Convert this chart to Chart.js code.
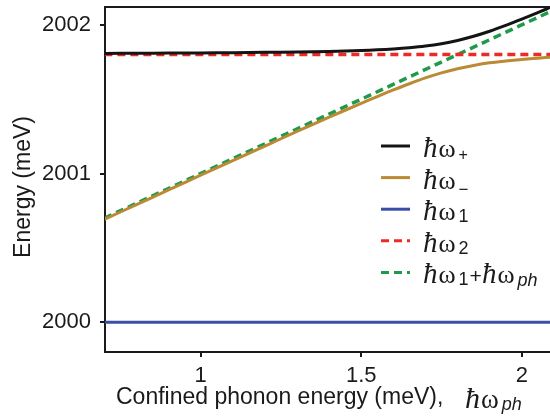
<!DOCTYPE html>
<html>
<head>
<meta charset="utf-8">
<script src="https://cdn.jsdelivr.net/npm/chart.js@4.4.1/dist/chart.umd.min.js"></script>
<style>
html,body{margin:0;padding:0;background:#ffffff;}
#wrap{position:relative;width:550px;height:416px;overflow:hidden;}
</style>
</head>
<body>
<div id="wrap"><canvas id="c" width="550" height="416"></canvas></div>
<script>
// ---- data ----
const xPhonon = [0.70,0.80,0.90,1.00,1.10,1.20,1.30,1.40,1.50,1.55,1.60,1.65,1.70,1.75,1.80,1.85,1.90,1.95,2.00,2.05,2.10];
const upperBranch = [2001.808,2001.809,2001.810,2001.811,2001.813,2001.815,2001.817,2001.821,2001.828,2001.832,2001.838,2001.846,2001.857,2001.873,2001.895,2001.923,2001.957,2001.996,2002.038,2002.082,2002.128];
const lowerBranch = [2000.692,2000.791,2000.890,2000.989,2001.087,2001.185,2001.283,2001.379,2001.472,2001.518,2001.562,2001.604,2001.643,2001.677,2001.705,2001.727,2001.745,2001.757,2001.767,2001.776,2001.783];
const lineX = [0.70, 2.10];
const omega1 = [2000.0, 2000.0];
const omega2 = [2001.8, 2001.8];
const omega1PlusPh = [2000.70, 2002.10];
const xTicks = [1, 1.5, 2];
const xTickLabels = ['1', '1.5', '2'];
const yTicks = [2000, 2001, 2002];
const yTickLabels = ['2000', '2001', '2002'];
const seriesNames = ['ħω+', 'ħω−', 'ħω1', 'ħω2', 'ħω1+ħωph'];

const pts = (xs, ys) => xs.map((x, i) => ({x: x, y: ys[i]}));

const SANS = '"Liberation Sans", Arial, sans-serif';
const SERIF = '"Liberation Serif", "Times New Roman", serif';
const TXT = '#1a1a1a';

// text runs for legend entries (formatting of seriesNames)
const hbar = (sz) => [{t:'ħ', f:'italic ' + (sz + 3) + 'px ' + SERIF}, {t:'ω', f:sz + 'px ' + SERIF, dx:1}];
const sub = (t, dy, sz, it) => ({t:t, f:(it ? 'italic ' : '') + sz + 'px ' + SANS, dy:dy, dx:3});
const legendRuns = [
  [...hbar(26), sub('+', 3, 16)],
  [...hbar(26), sub('−', 6, 17)],
  [...hbar(26), sub('1', 2, 18)],
  [...hbar(26), sub('2', 2, 18)],
  [...hbar(26), sub('1', 2, 18), {t:'+', f:'21px ' + SANS, dx:1}, ...hbar(26), sub('ph', 3, 18, true)]
];
const legendColors = ['#141414', '#bb8a34', '#3a4ea8', '#ee2a24', '#1f9a4b'];
const legendDash = [[], [], [], [8,5], [8,5]];

function drawRuns(ctx, x, baseline, runs) {
  let cx = x;
  ctx.textBaseline = 'alphabetic';
  ctx.textAlign = 'left';
  ctx.fillStyle = TXT;
  runs.forEach(r => {
    ctx.font = r.f;
    cx += (r.dx || 0);
    ctx.fillText(r.t, cx, baseline + (r.dy || 0));
    cx += ctx.measureText(r.t).width;
  });
}

const decor = {
  id: 'decor',
  afterDraw(chart) {
    const ctx = chart.ctx;
    const a = chart.chartArea;
    ctx.save();
    // top frame line
    ctx.strokeStyle = '#1a1a1a';
    ctx.lineWidth = 2;
    ctx.beginPath();
    ctx.moveTo(a.left - 1, a.top);
    ctx.lineTo(a.right + 2, a.top);
    ctx.stroke();
    // legend
    const top = 146, step = 31.6;
    legendRuns.forEach((runs, i) => {
      const y = top + i * step;
      ctx.strokeStyle = legendColors[i];
      ctx.lineWidth = 3;
      ctx.setLineDash(legendDash[i]);
      ctx.beginPath();
      ctx.moveTo(381, y);
      ctx.lineTo(410, y);
      ctx.stroke();
      ctx.setLineDash([]);
      drawRuns(ctx, 423, y + 11, runs);
    });
    // x axis title
    drawRuns(ctx, 116, 404, [{t:'Confined phonon energy (meV),', f:'23px ' + SANS}]);
    drawRuns(ctx, 465, 408, [...hbar(27), sub('ph', 2, 18, true)]);
    // y axis title
    ctx.translate(30, 187);
    ctx.rotate(-Math.PI / 2);
    ctx.font = '23px ' + SANS;
    ctx.textAlign = 'center';
    ctx.textBaseline = 'alphabetic';
    ctx.fillStyle = TXT;
    ctx.fillText('Energy (meV)', 0, 0);
    ctx.restore();
  }
};

const solid = (label, data, color) => ({label, data, borderColor: color, backgroundColor: color, borderWidth: 3, pointRadius: 0, tension: 0.3, fill: false});
const dashed = (label, data, color) => ({label, data, borderColor: color, backgroundColor: color, borderWidth: 3.5, borderDash: [8,5], pointRadius: 0, tension: 0, fill: false});

new Chart(document.getElementById('c'), {
  type: 'line',
  data: {
    datasets: [
      solid(seriesNames[0], pts(xPhonon, upperBranch), legendColors[0]),
      solid(seriesNames[1], pts(xPhonon, lowerBranch), legendColors[1]),
      solid(seriesNames[2], pts(lineX, omega1), legendColors[2]),
      dashed(seriesNames[3], pts(lineX, omega2), legendColors[3]),
      dashed(seriesNames[4], pts(lineX, omega1PlusPh), legendColors[4])
    ]
  },
  options: {
    responsive: false,
    animation: false,
    devicePixelRatio: 1,
    layout: {padding: {top: 7, right: 0, left: 0, bottom: 0}},
    plugins: {legend: {display: false}, tooltip: {enabled: false}},
    scales: {
      x: {
        type: 'linear', min: 0.702, max: 2.088,
        afterBuildTicks: s => { s.ticks = xTicks.map(v => ({value: v})); },
        afterFit: s => { s.height = 64; s.paddingLeft = 0; s.paddingRight = 0; },
        ticks: {font: {family: SANS, size: 22}, color: TXT, padding: 6, maxRotation: 0,
                callback: (v) => xTickLabels[xTicks.indexOf(v)]},
        grid: {display: true, drawOnChartArea: false, drawTicks: true, tickLength: 5, color: '#1a1a1a', lineWidth: 2},
        border: {display: true, color: '#1a1a1a', width: 2}
      },
      y: {
        type: 'linear', min: 1999.80, max: 2002.12,
        afterBuildTicks: s => { s.ticks = yTicks.map(v => ({value: v})); },
        afterFit: s => { s.width = 105; s.paddingTop = 0; s.paddingBottom = 0; },
        ticks: {font: {family: SANS, size: 22}, color: TXT, padding: 9,
                callback: (v) => yTickLabels[yTicks.indexOf(v)]},
        grid: {display: true, drawOnChartArea: false, drawTicks: true, tickLength: 5, color: '#1a1a1a', lineWidth: 2},
        border: {display: true, color: '#1a1a1a', width: 2}
      }
    }
  },
  plugins: [decor]
});
</script>
</body>
</html>
